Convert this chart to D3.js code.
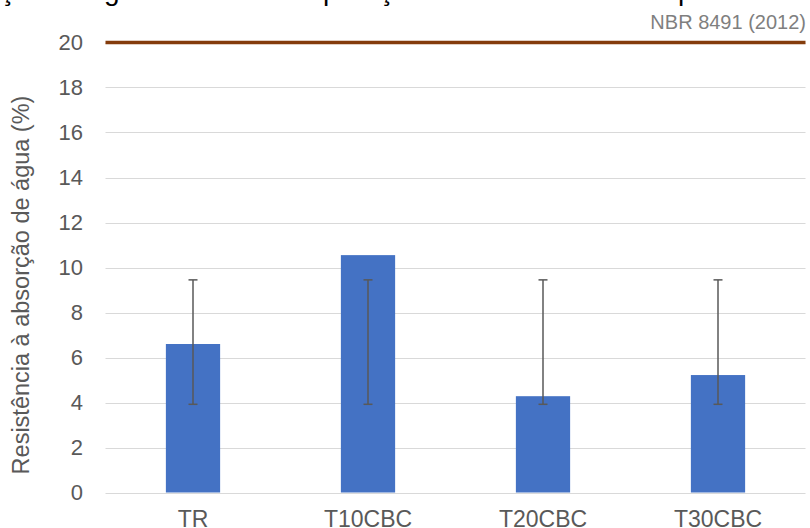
<!DOCTYPE html>
<html><head><meta charset="utf-8">
<script src="https://cdn.jsdelivr.net/npm/d3@7"></script>
<style>html,body{margin:0;padding:0;background:#fff;}svg{display:block;}</style>
</head><body>
<script>
const categories = ["TR", "T10CBC", "T20CBC", "T30CBC"];
const values = [6.6, 10.55, 4.28, 5.22];
const errLow = [3.92, 3.92, 3.92, 3.92];
const errHigh = [9.45, 9.45, 9.45, 9.45];
const yTicks = [0, 2, 4, 6, 8, 10, 12, 14, 16, 18, 20];
const limitValue = 20;
const limitLabel = "NBR 8491 (2012)";
const yTitle = "Resistência à absorção de água (%)";
const titleWords = ["Resistência à absorção", "de água", "em comparação", "para"];

const W = 810, H = 528;
const FONT = "'Liberation Sans', Arial, sans-serif";
const svg = d3.select("body").append("svg").attr("width", W).attr("height", H);

const x = d3.scaleBand().domain(categories).range([105.5, 805.5]).paddingInner(0.69).paddingOuter(0.345);
const y = d3.scaleLinear().domain([0, 20]).range([492.5, 42.5]);

// gridlines
svg.append("g").selectAll("line").data(yTicks).join("line")
  .attr("x1", 105.5).attr("x2", 805.5)
  .attr("y1", d => Math.round(y(d)) + 0.5).attr("y2", d => Math.round(y(d)) + 0.5)
  .attr("stroke", "#d9d9d9").attr("stroke-width", 1);

// y axis labels
const yAxis = d3.axisLeft(y).tickValues(yTicks).tickSize(0).tickPadding(0);
const ga = svg.append("g").attr("transform", "translate(83,0)").call(yAxis);
ga.select(".domain").remove();
ga.selectAll("text").attr("font-family", FONT).attr("font-size", 22).attr("fill", "#595959").attr("x", 0);

// bars
const idx = d3.range(categories.length);
svg.append("g").selectAll("rect").data(idx).join("rect")
  .attr("x", i => x(categories[i])).attr("width", x.bandwidth())
  .attr("y", i => y(values[i])).attr("height", i => y(0) - y(values[i]))
  .attr("fill", "#4472C4");

// error bars
const eb = svg.append("g").attr("stroke", "#595959").attr("stroke-width", 1.5);
idx.forEach(i => {
  const cx = x(categories[i]) + x.bandwidth() / 2;
  eb.append("line").attr("x1", cx).attr("x2", cx).attr("y1", y(errLow[i])).attr("y2", y(errHigh[i]));
  eb.append("line").attr("x1", cx - 4.5).attr("x2", cx + 4.5).attr("y1", y(errLow[i])).attr("y2", y(errLow[i]));
  eb.append("line").attr("x1", cx - 4.5).attr("x2", cx + 4.5).attr("y1", y(errHigh[i])).attr("y2", y(errHigh[i]));
});

// limit line
svg.append("line").attr("x1", 105.5).attr("x2", 805.5).attr("y1", y(limitValue)).attr("y2", y(limitValue))
  .attr("stroke", "#843C0C").attr("stroke-width", 3.5);
svg.append("text").attr("x", 806).attr("y", 29).attr("text-anchor", "end")
  .attr("font-family", FONT).attr("font-size", 20).attr("fill", "#7f7f7f").text(limitLabel);

// x labels
svg.append("g").selectAll("text").data(categories).join("text")
  .attr("x", d => x(d) + x.bandwidth() / 2).attr("y", 526.5).attr("text-anchor", "middle")
  .attr("font-family", FONT).attr("font-size", 23).attr("fill", "#595959").text(d => d);

// y title
svg.append("text").attr("transform", "translate(29,285) rotate(-90)").attr("text-anchor", "middle")
  .attr("font-family", FONT).attr("font-size", 23.5).attr("fill", "#595959").text(yTitle);

// cut-off title (only descenders visible)
const anchors = [[19, 0], [4, 104], [6, 323], [0, 678]]; // [char index within piece, target x]
const tt = svg.append("text").attr("y", -0.5).attr("font-family", FONT).attr("font-size", 28).attr("fill", "#000");
titleWords.forEach(w => { tt.append("tspan").attr("x", 0).text(w); });
tt.selectAll("tspan").each(function(d, k) {
  const [ci, tx] = anchors[k];
  const off = ci > 0 ? this.getSubStringLength(0, ci) : 0;
  d3.select(this).attr("x", tx - off);
});
</script>
</body></html>
